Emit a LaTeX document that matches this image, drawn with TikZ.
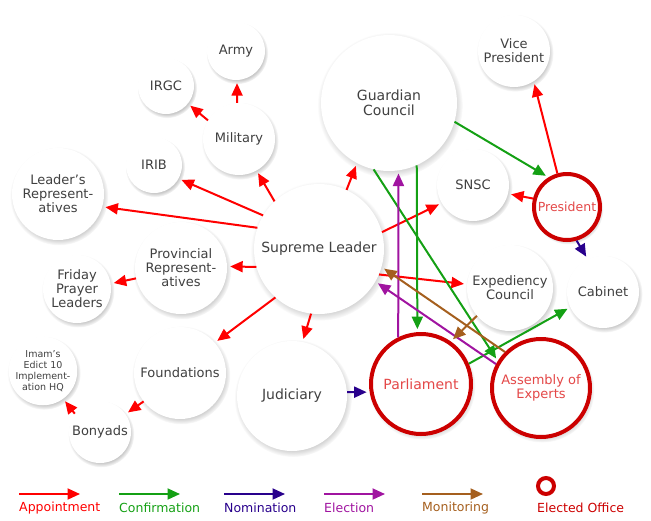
\documentclass[tikz,border=0pt]{standalone}
\usepackage{fontspec}
\setmainfont{DejaVu Sans}
\usepackage{tikz}
\usetikzlibrary{arrows.meta, shadows}

\definecolor{appointred}{RGB}{255,0,0}
\definecolor{confirmgreen}{RGB}{20,160,20}
\definecolor{nominblue}{RGB}{40,0,140}
\definecolor{electpurple}{RGB}{160,20,160}
\definecolor{monitorbrown}{RGB}{165,95,30}
\definecolor{officered}{RGB}{204,0,0}
\definecolor{officetext}{RGB}{228,72,72}
\definecolor{bubbletext}{RGB}{64,64,64}

\tikzset{
  bubble/.style={circle, fill=white, text=bubbletext, align=center, inner sep=0pt,
    minimum size=#1, font=\fontsize{13}{14}\selectfont,
    circular drop shadow={shadow xshift=1pt, shadow yshift=-2pt, shadow scale=1.07, opacity=0.45}},
  elected/.style={bubble=#1, draw=officered, line width=4pt, text=officetext},
  big/.style={font=\fontsize{14}{15}\selectfont},
  link/.style={line width=2pt, -{Triangle[length=12.5pt,width=11pt]}, shorten >=3pt},
  appoint/.style={link, draw=appointred, fill=appointred},
  confirm/.style={link, draw=confirmgreen, fill=confirmgreen},
  nominate/.style={link, draw=nominblue, fill=nominblue},
  elect/.style={link, draw=electpurple, fill=electpurple},
  monitor/.style={link, draw=monitorbrown, fill=monitorbrown},
  legendtext/.style={inner sep=0pt, anchor=west, font=\fontsize{12.5}{14}\selectfont}
}

\begin{document}
\begin{tikzpicture}[x=1pt, y=-1pt]
  \useasboundingbox (0,0) rectangle (651,520);

  % bodies
  \node[bubble=58pt] (army) at (236,51) {Army};
  \node[bubble=56pt] (irgc) at (166,86) {IRGC};
  \node[bubble=72pt] (military) at (239,139) {Military};
  \node[bubble=56pt] (irib) at (154,165) {IRIB};
  \node[bubble=92pt] (lreps) at (58,194) {Leader’s\\Represent-\\atives};
  \node[bubble=130pt, big] (leader) at (319,249) {Supreme Leader};
  \node[bubble=136pt, big] (guardian) at (389,103) {Guardian\\Council};
  \node[bubble=72pt] (vice) at (514,51) {Vice\\President};
  \node[bubble=72pt] (snsc) at (473,185) {SNSC};
  \node[elected=66pt, font=\fontsize{12.5}{14}\selectfont] (president) at (567,207) {President};
  \node[bubble=92pt] (provreps) at (181,268) {Provincial\\Represent-\\atives};
  \node[bubble=68pt] (friday) at (77,289) {Friday\\Prayer\\Leaders};
  \node[bubble=86pt] (expediency) at (510,288) {Expediency\\Council};
  \node[bubble=72pt] (cabinet) at (603,292) {Cabinet};
  \node[bubble=92pt] (foundations) at (180,373) {Foundations};
  \node[bubble=62pt, font=\fontsize{9.5}{11}\selectfont] (imam) at (43,371) {Imam’s\\Edict 10\\Implement-\\ation HQ};
  \node[bubble=62pt] (bonyads) at (100,432) {Bonyads};
  \node[bubble=110pt, big] (judiciary) at (292,396) {Judiciary};
  \node[elected=100pt, big] (parliament) at (421,384) {Parliament};
  \node[elected=98pt] (experts) at (541,388) {Assembly of\\Experts};

  % appointment
  \draw[appoint] (military.93) -- (army.-88);
  \draw[appoint] (military.149) -- (irgc.-39);
  \draw[appoint] (leader.133) -- (military.-61);
  \draw[appoint] (leader.149) -- (irib.-29);
  \draw[appoint] (leader.161) -- (lreps.-16);
  \draw[appoint] (leader.65) -- (guardian.-118);
  \draw[appoint] (leader.15) -- (snsc.210);
  \draw[appoint] (leader.196) -- (provreps.2);
  \draw[appoint] (provreps.193) -- (friday.9);
  \draw[appoint] (leader.228) -- (foundations.41);
  \draw[appoint] (leader.263) -- (judiciary.79);
  \draw[appoint] (leader.-23) -- (expediency.175);
  \draw[appoint] (foundations.218) -- (bonyads.35);
  \draw[appoint] (bonyads.144) -- (imam.-54);
  \draw[appoint] (president.166) -- (snsc.-14);
  \draw[appoint] (president.106) -- (vice.-57);
  % confirmation
  \draw[confirm] (guardian.-16) -- (president.122);
  \draw[confirm] (guardian.-66) -- (parliament.94);
  \draw[confirm] (guardian.257) -- (experts.148);
  \draw[confirm] (parliament.23) -- (cabinet.205);
  % nomination
  \draw[nominate] (president.-74) -- (cabinet.115);
  \draw[nominate] (judiciary.4) -- (parliament.189);
  % election
  \draw[elect] (parliament.116) -- (guardian.-82);
  \draw[elect] (experts.152) -- (leader.-30);
  % monitoring
  \draw[monitor] (expediency.220) -- (parliament.55);
  \draw[monitor] (experts.135) -- (leader.-16);

  % legend
  \foreach \x/\name/\sty/\col in {19/Appointment/appoint/appointred,
      119/Confirmation/confirm/confirmgreen, 224/Nomination/nominate/nominblue,
      324/Election/elect/electpurple, 422/Monitoring/monitor/monitorbrown} {
    \coordinate (\sty-a) at (\x,494);
    \coordinate (\sty-b) at (\x+61,494);
    \draw[\sty, shorten >=0pt] (\sty-a) -- (\sty-b);
    \node[legendtext, text=\col] (\sty-label) at (\x,508) {\name};
  }
  \node[circle, draw=officered, line width=4pt, minimum size=16pt, inner sep=0pt] (officekey) at (546,486) {};
  \node[legendtext, text=officered] (officelabel) at (537,508) {Elected Office};
\end{tikzpicture}
\end{document}
